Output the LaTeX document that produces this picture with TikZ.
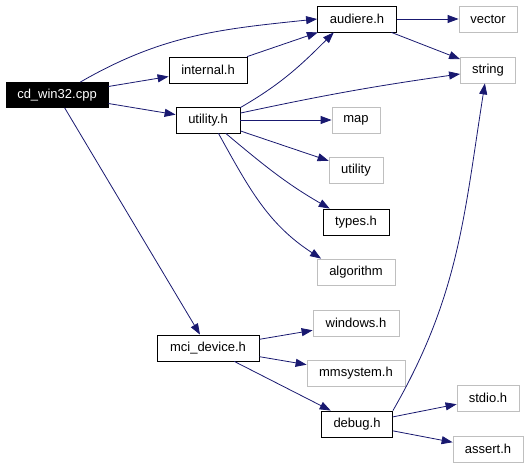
\documentclass[tikz,border=0pt]{standalone}
\usepackage{fontspec}
\setmainfont{Liberation Sans}
\usepackage{xcolor}
\usepackage{tikz}
\usetikzlibrary{arrows.meta, positioning}
\definecolor{edgeblue}{HTML}{191970}
\definecolor{sysgray}{HTML}{BFBFBF}

\begin{document}
\begin{tikzpicture}[
					% Picture Styling
					x=1pt, y=-1pt,
					>={Triangle[length=11pt, width=8pt]},
					header/.style={draw=black, line width=0.8pt, rectangle, minimum height=26pt, inner sep=0pt, align=center, font=\fontsize{13}{15}\selectfont, text=black},
					syshdr/.style={header, draw=sysgray},
					source/.style={header, fill=black, text=white},
					incl/.style={->, line width=0.8pt, draw=edgeblue}
				]
				\useasboundingbox (0,0) rectangle (528,468);
				% Fichero de origen
				\node[source, minimum width=102pt, minimum height=25pt] (cdwin) at (57,95) {cd\_win32.cpp};
				% Cabeceras propias
				\node[header, minimum width=79pt] (audiere) at (357,19) {audiere.h};
				\node[header, minimum width=78pt] (internal) at (208,70) {internal.h};
				\node[header, minimum width=64pt] (utilh) at (208,120) {utility.h};
				\node[header, minimum width=66pt] (types) at (356,222) {types.h};
				\node[header, minimum width=102pt] (mcidev) at (208,348) {mci\_device.h};
				\node[header, minimum width=71pt] (debug) at (357,424) {debug.h};
				% Cabeceras del sistema
				\node[syshdr, minimum width=58pt] (vector) at (488,19) {vector};
				\node[syshdr, minimum width=55pt] (string) at (488,70) {string};
				\node[syshdr, minimum width=48pt] (map) at (356,120) {map};
				\node[syshdr, minimum width=54pt] (utility) at (356,170) {utility};
				\node[syshdr, minimum width=78pt] (algorithm) at (356,272) {algorithm};
				\node[syshdr, minimum width=86pt] (windows) at (356,323) {windows.h};
				\node[syshdr, minimum width=98pt] (mmsystem) at (356,373) {mmsystem.h};
				\node[syshdr, minimum width=62pt] (stdio) at (488,398) {stdio.h};
				\node[syshdr, minimum width=70pt] (assert) at (488,449) {assert.h};
				% Inclusiones desde cd_win32.cpp
				\draw[incl] (cdwin.29) to[out=30, in=186] (audiere.west);
				\draw[incl] (cdwin) -- (internal);
				\draw[incl] (cdwin) -- (utilh);
				\draw[incl] (cdwin) -- (mcidev);
				% Inclusiones internas
				\draw[incl] (internal) -- (audiere);
				\draw[incl] (audiere) -- (vector);
				\draw[incl] (audiere) -- (string);
				\draw[incl] (utilh.21) to[out=30, in=225] (audiere.210);
				\draw[incl] (utilh) to[bend left=2] (string);
				\draw[incl] (utilh) -- (map);
				\draw[incl] (utilh) -- (utility);
				\draw[incl] (utilh.-37) to[out=-40, in=150] (types.153);
				\draw[incl] (utilh.-52) to[out=-61, in=147] (algorithm.159);
				\draw[incl] (mcidev) -- (windows);
				\draw[incl] (mcidev) -- (mmsystem);
				\draw[incl] (mcidev) -- (debug);
				\draw[incl] (debug.north east) to[out=60, in=-99] (string.257);
				\draw[incl] (debug) -- (stdio);
				\draw[incl] (debug) -- (assert);
			\end{tikzpicture}
\end{document}
